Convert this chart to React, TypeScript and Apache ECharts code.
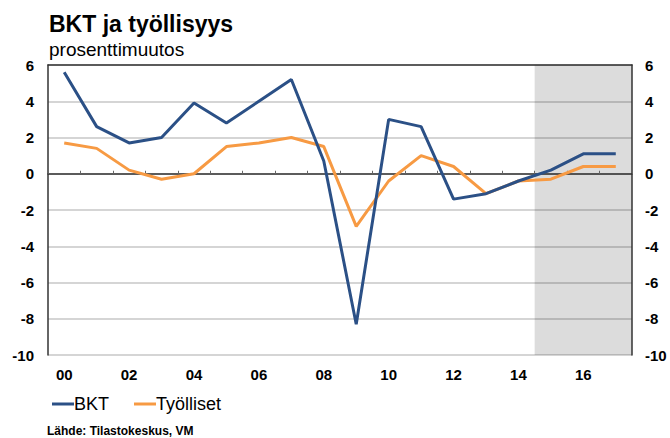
import React, { useEffect, useRef } from "react";
import * as echarts from "echarts";

const years = [
  "2000", "2001", "2002", "2003", "2004", "2005", "2006", "2007", "2008",
  "2009", "2010", "2011", "2012", "2013", "2014", "2015", "2016", "2017",
];
const bkt = [5.6, 2.6, 1.7, 2.0, 3.9, 2.8, 4.0, 5.2, 0.7, -8.3, 3.0, 2.6, -1.4, -1.1, -0.4, 0.2, 1.1, 1.1];
const tyolliset = [1.7, 1.4, 0.2, -0.3, 0.0, 1.5, 1.7, 2.0, 1.5, -2.9, -0.4, 1.0, 0.4, -1.1, -0.4, -0.3, 0.4, 0.4];
const forecastFirstYear = 2015;
const lastYear = 2017;
const firstYear = 2000;
const yTicks = { min: -10, max: 6, interval: 2 };

const titleText = "BKT ja työllisyys";
const subtitleText = "prosenttimuutos";
const sourceText = "Lähde: Tilastokeskus, VM";
const seriesNames = ["BKT", "Työlliset"];

const FONT = "'Liberation Sans', Arial, sans-serif";

export default function App() {
  const ref = useRef<HTMLDivElement>(null);
  useEffect(() => {
    if (!ref.current) return;
    const chart = echarts.init(ref.current, undefined, { renderer: "svg" });
    const axisLabel = {
      fontFamily: FONT,
      fontWeight: "bold" as const,
      fontSize: 15,
      color: "#000",
    };
    // forecast period shading: from the start of the first forecast year to the end of the last year
    const forecastShade = [
      [forecastFirstYear - 0.5, yTicks.max],
      [lastYear + 0.5, yTicks.max],
    ];
    chart.setOption({
      animation: false,
      backgroundColor: "#fff",
      title: [
        {
          text: titleText,
          left: 49,
          top: 12,
          padding: 0,
          textStyle: { fontFamily: FONT, fontWeight: "bold", fontSize: 23, color: "#000" },
        },
        {
          text: subtitleText,
          left: 49,
          top: 40,
          padding: 0,
          textStyle: { fontFamily: FONT, fontWeight: "normal", fontSize: 19, color: "#000" },
        },
        {
          text: sourceText,
          left: 47,
          top: 425,
          padding: 0,
          textStyle: { fontFamily: FONT, fontWeight: "bold", fontSize: 12, color: "#000" },
        },
      ],
      legend: {
        left: 52,
        top: 395,
        padding: 0,
        itemGap: 25,
        itemWidth: 22,
        itemHeight: 3,
        icon: "rect",
        data: seriesNames,
        textStyle: { fontFamily: FONT, fontSize: 18, color: "#000", padding: [0, 0, 0, -5] },
      },
      grid: { left: 48, right: 38, top: 65, bottom: 83, containLabel: false },
      xAxis: [
        {
          type: "category",
          data: years,
          boundaryGap: true,
          z: 4,
          axisLine: { show: true, lineStyle: { color: "#333", width: 1.5 } },
          axisTick: { show: true, inside: true, length: 3, interval: 0, lineStyle: { color: "#666" } },
          axisLabel: { ...axisLabel, interval: 1, margin: 12, formatter: (v: string) => v.slice(2) },
          splitLine: { show: false },
        },
        {
          type: "value",
          position: "top",
          min: firstYear - 0.5,
          max: lastYear + 0.5,
          z: 4,
          axisLine: { show: true, onZero: false, lineStyle: { color: "#333", width: 1.5 } },
          axisTick: { show: false },
          axisLabel: { show: false },
          splitLine: { show: false },
        },
      ],
      yAxis: [
        {
          type: "value",
          position: "left",
          min: yTicks.min,
          max: yTicks.max,
          interval: yTicks.interval,
          z: 4,
          axisLine: { show: true, onZero: false, lineStyle: { color: "#333", width: 1.5 } },
          axisTick: { show: false },
          axisLabel: { ...axisLabel, margin: 14 },
          splitLine: { show: true, lineStyle: { color: "rgba(0,0,0,0.22)", width: 1.5 } },
        },
        {
          type: "value",
          position: "right",
          min: yTicks.min,
          max: yTicks.max,
          interval: yTicks.interval,
          z: 4,
          axisLine: { show: true, onZero: false, lineStyle: { color: "#333", width: 1.5 } },
          axisTick: { show: false },
          axisLabel: { ...axisLabel, margin: 13 },
          splitLine: { show: false },
        },
      ],
      series: [
        {
          type: "line",
          name: "forecast",
          xAxisIndex: 1,
          yAxisIndex: 1,
          data: forecastShade,
          z: -5,
          silent: true,
          symbol: "none",
          showSymbol: false,
          lineStyle: { width: 0, opacity: 0 },
          areaStyle: { color: "#dcdcdc", opacity: 1, origin: "start" },
        },
        {
          type: "line",
          name: seriesNames[0],
          data: bkt,
          z: 6,
          showSymbol: false,
          symbol: "none",
          color: "#2b5086",
          lineStyle: { color: "#2b5086", width: 3 },
        },
        {
          type: "line",
          name: seriesNames[1],
          data: tyolliset,
          z: 5,
          showSymbol: false,
          symbol: "none",
          color: "#f79a43",
          lineStyle: { color: "#f79a43", width: 3 },
        },
      ],
    });
    return () => chart.dispose();
  }, []);
  return (
    <div
      ref={ref}
      style={{ position: "fixed", left: 0, top: 0, width: 670, height: 438 }}
    />
  );
}
